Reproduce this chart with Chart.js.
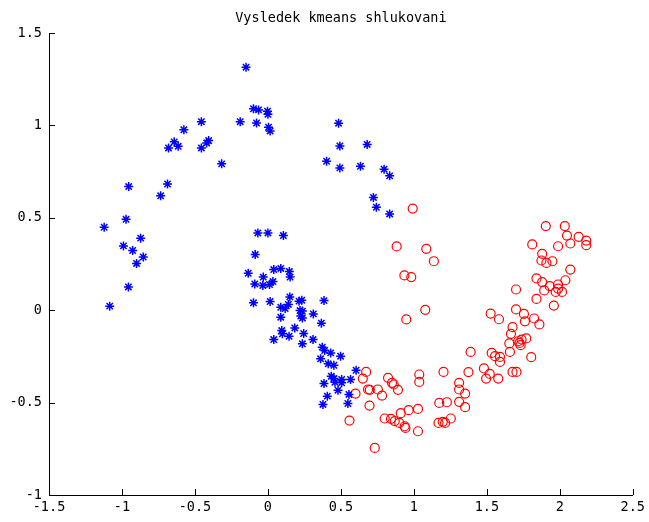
<!DOCTYPE html>
<html>
<head>
<meta charset="utf-8">
<script src="https://cdn.jsdelivr.net/npm/chart.js@4/dist/chart.umd.min.js"></script>
<style>
html,body{margin:0;padding:0;background:#fff;}
canvas{display:block;}
</style>
</head>
<body>
<canvas id="c" width="649" height="522"></canvas>
<script>
const titleText = "Vysledek kmeans shlukovani";
const xTicks = [-1.5, -1, -0.5, 0, 0.5, 1, 1.5, 2, 2.5];
const yTicks = [-1, -0.5, 0, 0.5, 1, 1.5];

const blueX = [-0.15,-0.099,-0.064,-0.003,0.0,-0.19,-0.078,0.004,0.015,-0.456,-0.576,-0.642,-0.681,-0.615,-0.406,-0.42,-0.456,-0.317,-0.954,-0.688,-0.735,-0.972,-1.122,-0.872,-0.99,-0.927,-0.854,-0.9,-0.956,-1.084,
0.484,0.493,0.68,0.402,0.493,0.634,0.796,0.834,0.723,0.743,0.834,
-0.069,0.0,0.106,-0.087,-0.135,0.04,0.088,0.147,0.152,-0.032,-0.09,-0.035,0.011,0.034,-0.099,0.015,0.15,0.14,0.088,0.118,0.088,0.213,0.232,0.22,0.236,0.225,0.236,0.311,0.384,0.366,0.184,0.095,0.099,0.145,0.04,0.245,0.309,0.236,0.372,0.389,0.43,0.498,0.361,0.413,0.452,0.604,0.434,0.452,0.505,0.566,0.384,0.505,0.459,0.48,0.407,0.555,0.377,0.548];
const blueY = [1.315,1.09,1.084,1.077,1.06,1.02,1.013,0.99,0.97,1.02,0.976,0.911,0.878,0.887,0.918,0.905,0.878,0.792,0.669,0.683,0.619,0.492,0.449,0.39,0.348,0.323,0.288,0.253,0.126,0.022,
1.012,0.889,0.897,0.806,0.77,0.779,0.763,0.727,0.61,0.557,0.521,
0.418,0.418,0.404,0.301,0.2,0.22,0.226,0.209,0.179,0.179,0.142,0.134,0.139,0.155,0.04,0.047,0.072,0.031,0.016,0.009,-0.038,0.049,0.054,-0.002,-0.005,-0.032,-0.042,-0.02,0.052,-0.07,-0.096,-0.11,-0.128,-0.141,-0.159,-0.126,-0.159,-0.182,-0.2,-0.218,-0.231,-0.249,-0.263,-0.29,-0.298,-0.325,-0.357,-0.37,-0.375,-0.375,-0.397,-0.393,-0.39,-0.433,-0.465,-0.456,-0.51,-0.505];

const redX = [0.992,0.882,1.085,1.137,0.935,0.982,1.078,0.948,
0.673,0.65,0.6,0.559,0.696,0.686,0.698,0.753,0.782,0.823,0.85,0.862,0.891,0.732,0.8,0.843,0.869,0.91,0.964,1.028,0.9,0.937,0.942,1.028,1.037,1.037,1.203,1.174,1.226,1.169,1.198,1.214,1.253,
1.31,1.31,1.351,1.31,1.351,
1.7,1.7,1.526,1.583,1.676,1.665,1.715,1.654,1.658,1.389,1.533,1.556,1.59,1.59,1.48,1.52,1.495,1.578,1.676,1.703,1.374,
1.904,2.034,2.049,2.129,2.181,2.181,1.811,1.988,2.072,1.879,1.874,1.908,1.949,2.072,1.84,1.879,1.931,1.988,2.038,1.893,1.972,2.015,1.988,1.84,1.959,1.754,1.824,1.86,1.761,1.738,1.77,1.724,1.731,1.804];
const redY = [0.55,0.345,0.332,0.265,0.188,0.179,0.002,-0.05,
-0.334,-0.37,-0.451,-0.597,-0.516,-0.429,-0.431,-0.429,-0.462,-0.366,-0.393,-0.402,-0.431,-0.745,-0.586,-0.588,-0.6,-0.557,-0.541,-0.534,-0.61,-0.628,-0.637,-0.655,-0.348,-0.388,-0.334,-0.502,-0.498,-0.61,-0.604,-0.61,-0.586,
-0.393,-0.429,-0.451,-0.496,-0.525,
0.112,0.004,-0.018,-0.049,-0.092,-0.128,-0.168,-0.18,-0.226,-0.226,-0.231,-0.249,-0.253,-0.28,-0.315,-0.345,-0.37,-0.37,-0.334,-0.334,-0.335,
0.455,0.455,0.404,0.397,0.377,0.352,0.356,0.346,0.361,0.305,0.269,0.256,0.265,0.22,0.172,0.152,0.13,0.139,0.162,0.107,0.099,0.099,0.117,0.061,0.025,-0.02,-0.045,-0.077,-0.06,-0.159,-0.153,-0.177,-0.189,-0.254];

const toPts = (xs, ys) => xs.map((x, i) => ({x: x, y: ys[i]}));
const FONT = "'DejaVu Sans Mono', 'Liberation Mono', monospace";

const axesExtras = {
  id: 'axesExtras',
  afterDraw(chart) {
    const ctx = chart.ctx;
    const xs = chart.scales.x, ys = chart.scales.y;
    const a = chart.chartArea;
    ctx.save();
    ctx.strokeStyle = '#000';
    ctx.lineWidth = 1;
    ctx.beginPath();
    xTicks.forEach(v => {
      const p = Math.round(xs.getPixelForValue(v)) + 0.5;
      ctx.moveTo(p, a.bottom);
      ctx.lineTo(p, a.bottom - 6);
    });
    yTicks.forEach(v => {
      const p = Math.round(ys.getPixelForValue(v)) + 0.5;
      ctx.moveTo(a.left, p);
      ctx.lineTo(a.left + 6, p);
    });
    ctx.stroke();
    ctx.fillStyle = '#000';
    ctx.font = "13.5px " + FONT;
    ctx.textAlign = 'center';
    ctx.textBaseline = 'middle';
    ctx.fillText(titleText, (a.left + a.right) / 2, 18);
    ctx.restore();
  }
};

new Chart(document.getElementById('c'), {
  type: 'scatter',
  data: {
    datasets: [
      {
        label: 'cluster 1',
        data: toPts(blueX, blueY),
        pointStyle: 'star',
        pointRadius: 4.5,
        borderColor: '#0000ff',
        backgroundColor: '#0000ff',
        borderWidth: 1.5
      },
      {
        label: 'cluster 2',
        data: toPts(redX, redY),
        pointStyle: 'circle',
        pointRadius: 4.5,
        borderColor: '#ff0000',
        backgroundColor: 'rgba(0,0,0,0)',
        borderWidth: 1.2
      }
    ]
  },
  options: {
    responsive: false,
    animation: false,
    layout: { padding: { left: 0, right: 14, top: 33, bottom: 0 } },
    plugins: {
      legend: { display: false },
      tooltip: { enabled: false },
      title: { display: false }
    },
    scales: {
      x: {
        type: 'linear',
        min: -1.5, max: 2.5,
        afterFit: s => { s.height = 27; },
        afterBuildTicks: s => { s.ticks = xTicks.map(v => ({value: v})); },
        ticks: {
          color: '#000',
          padding: 4,
          maxRotation: 0,
          autoSkip: false,
          font: { family: FONT, size: 13.5 },
          callback: v => String(v)
        },
        grid: { display: false, drawTicks: false },
        border: { display: true, color: '#000', width: 1 }
      },
      y: {
        type: 'linear',
        min: -1, max: 1.5,
        afterFit: s => { s.width = 49; },
        afterBuildTicks: s => { s.ticks = yTicks.map(v => ({value: v})); },
        ticks: {
          color: '#000',
          padding: 7,
          autoSkip: false,
          font: { family: FONT, size: 13.5 },
          callback: v => String(v)
        },
        grid: { display: false, drawTicks: false },
        border: { display: true, color: '#000', width: 1 }
      }
    }
  },
  plugins: [axesExtras]
});
</script>
</body>
</html>
